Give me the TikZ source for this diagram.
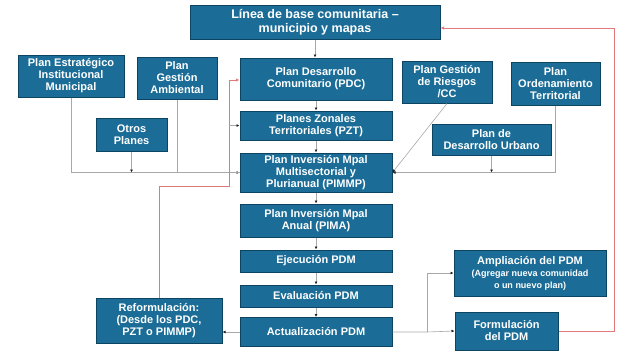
\documentclass[tikz,border=0pt]{standalone}
\usepackage{fontspec}
\setmainfont{Liberation Sans}
\usetikzlibrary{arrows.meta}
\definecolor{boxfill}{HTML}{1B6D97}
\definecolor{boxline}{HTML}{0C4462}
\definecolor{gline}{HTML}{A8A8A8}
\definecolor{rline}{HTML}{E07A7A}
\definecolor{tipc}{HTML}{222222}
\tikzset{
  box/.style={draw=boxline, line width=1pt, fill=boxfill, text=white, align=center,
    inner sep=1pt, font=\bfseries\fontsize{11}{12}\selectfont},
  gcon/.style={draw=gline, line width=0.6pt},
  rcon/.style={draw=rline, line width=0.7pt},
  tip/.style={-{Latex[length=3pt,width=3pt,fill=tipc,color=tipc]}},
  rtip/.style={-{Latex[length=3.5pt,width=3.5pt]}},
}
\begin{document}
\begin{tikzpicture}[x=1pt,y=-1pt]
\useasboundingbox (0,0) rectangle (621,360);
% boxes
\node[box, minimum width=250, minimum height=34, font=\bfseries\fontsize{12.5}{13.5}\selectfont] (lb) at (315,22) {Línea de base comunitaria –\\municipio y mapas};
\node[box, minimum width=106, minimum height=42] (pei) at (71,76) {Plan Estratégico\\Institucional\\Municipal};
\node[box, minimum width=80, minimum height=42] (pga) at (177,78) {Plan\\Gestión\\Ambiental};
\node[box, minimum width=71, minimum height=33] (otros) at (131.5,134.5) {Otros\\Planes};
\node[box, minimum width=152, minimum height=42] (pdc) at (316,79) {Plan Desarrollo\\Comunitario (PDC)};
\node[box, minimum width=152, minimum height=29] (pzt) at (316,125.5) {Planes Zonales\\Territoriales (PZT)};
\node[box, minimum width=152, minimum height=39] (pimmp) at (316,172.5) {Plan Inversión Mpal\\Multisectorial y\\Plurianual (PIMMP)};
\node[box, minimum width=152, minimum height=33] (pima) at (316,220.5) {Plan Inversión Mpal\\Anual (PIMA)};
\node[box, minimum width=152, minimum height=22] (ejec) at (316,261) {Ejecución PDM};
\node[box, minimum width=152, minimum height=22] (eval) at (316,296) {Evaluación PDM};
\node[box, minimum width=152, minimum height=29] (act) at (316,332) {Actualización PDM};
\node[box, minimum width=90, minimum height=42] (pgr) at (447,82) {Plan Gestión\\de Riesgos\\/CC};
\node[box, minimum width=89, minimum height=43] (pot) at (555.5,83.5) {Plan\\Ordenamiento\\Territorial};
\node[box, minimum width=119, minimum height=31] (pdu) at (491.5,139.5) {Plan de\\Desarrollo Urbano};
\node[box, minimum width=126, minimum height=45] (ref) at (159,320.5) {Reformulación:\\(Desde los PDC,\\PZT o PIMMP)};
\node[box, minimum width=152, minimum height=46] (amp) at (530,273) {Ampliación del PDM\\{\fontsize{9}{10}\selectfont (Agregar nueva comunidad}\\{\fontsize{9}{10}\selectfont o un nuevo plan)}};
\node[box, minimum width=103, minimum height=38] (form) at (506.5,331) {Formulación\\del PDM};
% central chain
\draw[gcon, tip] (lb.south) -- (lb.south |- pdc.north);
\draw[gcon, tip] (pdc) -- (pzt);
\draw[gcon, tip] (pzt) -- (pimmp);
\draw[gcon, tip] (pimmp) -- (pima);
\draw[gcon, tip] (pima) -- (ejec);
\draw[gcon, tip] (ejec) -- (eval);
\draw[gcon, tip] (eval) -- (act);
% left plans
\draw[gcon, tip] (pei.south) |- (pimmp.west);
\draw[gcon] (pga.south) |- (pimmp.west);
\draw[gcon, tip] (otros.south) -- (otros.south |- pimmp.west);
% right plans
\draw[gcon, tip] (pot.south) |- (pimmp.east);
\draw[gcon, tip] (pgr.south) -- (pimmp.east);
\draw[gcon, tip] (pdu.south) -- (pdu.south |- pimmp.east);
% bottom
\coordinate (ja) at (427,332);
\draw[gcon, tip] (act.east) -- (ja) -- (form.west);
\draw[gcon, tip] (ja) |- (amp.west);
\draw[gcon, tip] (act.west) -- (act.west -| ref.east);
% red feedback lines
\coordinate (rA) at (229,186);
\coordinate (rB) at (229,80);
\coordinate (rP) at (229,125.5);
\draw[rcon, rtip] (ref.north) |- (rA) -- (rB) -- (rB -| pdc.west);
\draw[gcon, tip] (rP) -- (pzt.west);
\coordinate (rC) at (614,331);
\coordinate (rD) at (614,28);
\draw[rcon, rtip] (form.east) -- (rC) -- (rD) -- (rD -| lb.east);
\end{tikzpicture}
\end{document}
